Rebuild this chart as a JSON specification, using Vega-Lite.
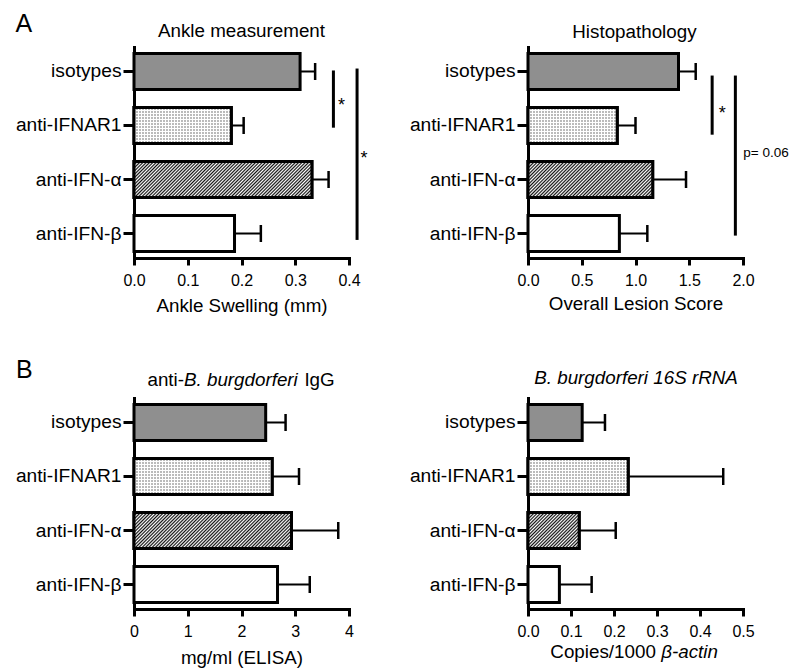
{
  "$schema": "https://vega.github.io/schema/vega-lite/v6.json",
  "padding": {"left": 15, "top": 12, "right": 5, "bottom": 5},
  "bounds": "flush",
  "columns": 2,
  "spacing": {"row": 140, "column": 179},
  "concat": [
    {
      "width": 215, "height": 211,
      "resolve": {"scale": {"y": "independent"}},
      "layer": [
        {
          "data": {"values": [
            {"group": "isotypes", "mean": 0.309, "hi": 0.337},
            {"group": "anti-IFNAR1", "mean": 0.181, "hi": 0.204},
            {"group": "anti-IFN-α", "mean": 0.331, "hi": 0.362},
            {"group": "anti-IFN-β", "mean": 0.187, "hi": 0.236}
          ]},
          "encoding": {
            "y": {"field": "group", "type": "nominal", "sort": ["isotypes", "anti-IFNAR1", "anti-IFN-α", "anti-IFN-β"], "scale": {"paddingInner": 0.333, "paddingOuter": 0.12}, "axis": {"title": null}},
            "x": {"field": "mean", "type": "quantitative", "scale": {"domain": [0, 0.4], "nice": false}, "axis": {"title": "Ankle Swelling (mm)", "values": [0, 0.1, 0.2, 0.3, 0.4], "format": ".1f", "titleY": 53}}
          },
          "layer": [
            {"mark": {"type": "bar", "stroke": "black", "strokeWidth": 3}, "encoding": {"fill": {"field": "group", "type": "nominal", "scale": {"domain": ["isotypes", "anti-IFNAR1", "anti-IFN-α", "anti-IFN-β"], "range": ["#8f8f8f", "#d9d9d9", "#8c8c8c", "#ffffff"]}, "legend": null}}},
            {"transform": [{"filter": "datum.group === 'anti-IFNAR1'"}], "mark": {"type": "bar", "strokeWidth": 0, "fill": {"gradient": "linear", "x1": 0, "y1": 0, "x2": 1.48, "y2": 0, "stops": [{"offset":0,"color":"#666"},{"offset":0.0104,"color":"#fff"},{"offset":0.0208,"color":"#666"},{"offset":0.0313,"color":"#fff"},{"offset":0.0417,"color":"#666"},{"offset":0.0521,"color":"#fff"},{"offset":0.0625,"color":"#666"},{"offset":0.0729,"color":"#fff"},{"offset":0.0833,"color":"#666"},{"offset":0.0938,"color":"#fff"},{"offset":0.1042,"color":"#666"},{"offset":0.1146,"color":"#fff"},{"offset":0.125,"color":"#666"},{"offset":0.1354,"color":"#fff"},{"offset":0.1458,"color":"#666"},{"offset":0.1563,"color":"#fff"},{"offset":0.1667,"color":"#666"},{"offset":0.1771,"color":"#fff"},{"offset":0.1875,"color":"#666"},{"offset":0.1979,"color":"#fff"},{"offset":0.2083,"color":"#666"},{"offset":0.2188,"color":"#fff"},{"offset":0.2292,"color":"#666"},{"offset":0.2396,"color":"#fff"},{"offset":0.25,"color":"#666"},{"offset":0.2604,"color":"#fff"},{"offset":0.2708,"color":"#666"},{"offset":0.2813,"color":"#fff"},{"offset":0.2917,"color":"#666"},{"offset":0.3021,"color":"#fff"},{"offset":0.3125,"color":"#666"},{"offset":0.3229,"color":"#fff"},{"offset":0.3333,"color":"#666"},{"offset":0.3438,"color":"#fff"},{"offset":0.3542,"color":"#666"},{"offset":0.3646,"color":"#fff"},{"offset":0.375,"color":"#666"},{"offset":0.3854,"color":"#fff"},{"offset":0.3958,"color":"#666"},{"offset":0.4063,"color":"#fff"},{"offset":0.4167,"color":"#666"},{"offset":0.4271,"color":"#fff"},{"offset":0.4375,"color":"#666"},{"offset":0.4479,"color":"#fff"},{"offset":0.4583,"color":"#666"},{"offset":0.4688,"color":"#fff"},{"offset":0.4792,"color":"#666"},{"offset":0.4896,"color":"#fff"},{"offset":0.5,"color":"#666"},{"offset":0.5104,"color":"#fff"},{"offset":0.5208,"color":"#666"},{"offset":0.5313,"color":"#fff"},{"offset":0.5417,"color":"#666"},{"offset":0.5521,"color":"#fff"},{"offset":0.5625,"color":"#666"},{"offset":0.5729,"color":"#fff"},{"offset":0.5833,"color":"#666"},{"offset":0.5938,"color":"#fff"},{"offset":0.6042,"color":"#666"},{"offset":0.6146,"color":"#fff"},{"offset":0.625,"color":"#666"},{"offset":0.6354,"color":"#fff"},{"offset":0.6458,"color":"#666"},{"offset":0.6563,"color":"#fff"},{"offset":0.6667,"color":"#666"},{"offset":0.6771,"color":"#fff"},{"offset":0.6875,"color":"#666"},{"offset":0.6979,"color":"#fff"},{"offset":0.7083,"color":"#666"},{"offset":0.7188,"color":"#fff"},{"offset":0.7292,"color":"#666"},{"offset":0.7396,"color":"#fff"},{"offset":0.75,"color":"#666"},{"offset":0.7604,"color":"#fff"},{"offset":0.7708,"color":"#666"},{"offset":0.7813,"color":"#fff"},{"offset":0.7917,"color":"#666"},{"offset":0.8021,"color":"#fff"},{"offset":0.8125,"color":"#666"},{"offset":0.8229,"color":"#fff"},{"offset":0.8333,"color":"#666"},{"offset":0.8438,"color":"#fff"},{"offset":0.8542,"color":"#666"},{"offset":0.8646,"color":"#fff"},{"offset":0.875,"color":"#666"},{"offset":0.8854,"color":"#fff"},{"offset":0.8958,"color":"#666"},{"offset":0.9063,"color":"#fff"},{"offset":0.9167,"color":"#666"},{"offset":0.9271,"color":"#fff"},{"offset":0.9375,"color":"#666"},{"offset":0.9479,"color":"#fff"},{"offset":0.9583,"color":"#666"},{"offset":0.9688,"color":"#fff"},{"offset":0.9792,"color":"#666"},{"offset":0.9896,"color":"#fff"},{"offset":1,"color":"#666"}]}}},
            {"transform": [{"filter": "datum.group === 'anti-IFNAR1'"}], "mark": {"type": "bar", "stroke": "black", "strokeWidth": 3, "fill": {"gradient": "linear", "x1": 0, "y1": 0, "x2": 0, "y2": 1, "stops": [{"offset":0,"color":"#fff"},{"offset":0.0417,"color":"rgba(255,255,255,0)"},{"offset":0.0833,"color":"#fff"},{"offset":0.125,"color":"rgba(255,255,255,0)"},{"offset":0.1667,"color":"#fff"},{"offset":0.2083,"color":"rgba(255,255,255,0)"},{"offset":0.25,"color":"#fff"},{"offset":0.2917,"color":"rgba(255,255,255,0)"},{"offset":0.3333,"color":"#fff"},{"offset":0.375,"color":"rgba(255,255,255,0)"},{"offset":0.4167,"color":"#fff"},{"offset":0.4583,"color":"rgba(255,255,255,0)"},{"offset":0.5,"color":"#fff"},{"offset":0.5417,"color":"rgba(255,255,255,0)"},{"offset":0.5833,"color":"#fff"},{"offset":0.625,"color":"rgba(255,255,255,0)"},{"offset":0.6667,"color":"#fff"},{"offset":0.7083,"color":"rgba(255,255,255,0)"},{"offset":0.75,"color":"#fff"},{"offset":0.7917,"color":"rgba(255,255,255,0)"},{"offset":0.8333,"color":"#fff"},{"offset":0.875,"color":"rgba(255,255,255,0)"},{"offset":0.9167,"color":"#fff"},{"offset":0.9583,"color":"rgba(255,255,255,0)"},{"offset":1,"color":"#fff"}]}}},
            {"transform": [{"filter": "datum.group === 'anti-IFN-α'"}], "mark": {"type": "bar", "stroke": "black", "strokeWidth": 3, "fill": {"gradient": "linear", "x1": 0, "y1": 0, "x2": 1.1448, "y2": 0.2317, "stops": [{"offset":0,"color":"#111"},{"offset":0.0078,"color":"#fff"},{"offset":0.0156,"color":"#111"},{"offset":0.0234,"color":"#fff"},{"offset":0.0313,"color":"#111"},{"offset":0.0391,"color":"#fff"},{"offset":0.0469,"color":"#111"},{"offset":0.0547,"color":"#fff"},{"offset":0.0625,"color":"#111"},{"offset":0.0703,"color":"#fff"},{"offset":0.0781,"color":"#111"},{"offset":0.0859,"color":"#fff"},{"offset":0.0938,"color":"#111"},{"offset":0.1016,"color":"#fff"},{"offset":0.1094,"color":"#111"},{"offset":0.1172,"color":"#fff"},{"offset":0.125,"color":"#111"},{"offset":0.1328,"color":"#fff"},{"offset":0.1406,"color":"#111"},{"offset":0.1484,"color":"#fff"},{"offset":0.1563,"color":"#111"},{"offset":0.1641,"color":"#fff"},{"offset":0.1719,"color":"#111"},{"offset":0.1797,"color":"#fff"},{"offset":0.1875,"color":"#111"},{"offset":0.1953,"color":"#fff"},{"offset":0.2031,"color":"#111"},{"offset":0.2109,"color":"#fff"},{"offset":0.2188,"color":"#111"},{"offset":0.2266,"color":"#fff"},{"offset":0.2344,"color":"#111"},{"offset":0.2422,"color":"#fff"},{"offset":0.25,"color":"#111"},{"offset":0.2578,"color":"#fff"},{"offset":0.2656,"color":"#111"},{"offset":0.2734,"color":"#fff"},{"offset":0.2813,"color":"#111"},{"offset":0.2891,"color":"#fff"},{"offset":0.2969,"color":"#111"},{"offset":0.3047,"color":"#fff"},{"offset":0.3125,"color":"#111"},{"offset":0.3203,"color":"#fff"},{"offset":0.3281,"color":"#111"},{"offset":0.3359,"color":"#fff"},{"offset":0.3438,"color":"#111"},{"offset":0.3516,"color":"#fff"},{"offset":0.3594,"color":"#111"},{"offset":0.3672,"color":"#fff"},{"offset":0.375,"color":"#111"},{"offset":0.3828,"color":"#fff"},{"offset":0.3906,"color":"#111"},{"offset":0.3984,"color":"#fff"},{"offset":0.4063,"color":"#111"},{"offset":0.4141,"color":"#fff"},{"offset":0.4219,"color":"#111"},{"offset":0.4297,"color":"#fff"},{"offset":0.4375,"color":"#111"},{"offset":0.4453,"color":"#fff"},{"offset":0.4531,"color":"#111"},{"offset":0.4609,"color":"#fff"},{"offset":0.4688,"color":"#111"},{"offset":0.4766,"color":"#fff"},{"offset":0.4844,"color":"#111"},{"offset":0.4922,"color":"#fff"},{"offset":0.5,"color":"#111"},{"offset":0.5078,"color":"#fff"},{"offset":0.5156,"color":"#111"},{"offset":0.5234,"color":"#fff"},{"offset":0.5313,"color":"#111"},{"offset":0.5391,"color":"#fff"},{"offset":0.5469,"color":"#111"},{"offset":0.5547,"color":"#fff"},{"offset":0.5625,"color":"#111"},{"offset":0.5703,"color":"#fff"},{"offset":0.5781,"color":"#111"},{"offset":0.5859,"color":"#fff"},{"offset":0.5938,"color":"#111"},{"offset":0.6016,"color":"#fff"},{"offset":0.6094,"color":"#111"},{"offset":0.6172,"color":"#fff"},{"offset":0.625,"color":"#111"},{"offset":0.6328,"color":"#fff"},{"offset":0.6406,"color":"#111"},{"offset":0.6484,"color":"#fff"},{"offset":0.6563,"color":"#111"},{"offset":0.6641,"color":"#fff"},{"offset":0.6719,"color":"#111"},{"offset":0.6797,"color":"#fff"},{"offset":0.6875,"color":"#111"},{"offset":0.6953,"color":"#fff"},{"offset":0.7031,"color":"#111"},{"offset":0.7109,"color":"#fff"},{"offset":0.7188,"color":"#111"},{"offset":0.7266,"color":"#fff"},{"offset":0.7344,"color":"#111"},{"offset":0.7422,"color":"#fff"},{"offset":0.75,"color":"#111"},{"offset":0.7578,"color":"#fff"},{"offset":0.7656,"color":"#111"},{"offset":0.7734,"color":"#fff"},{"offset":0.7813,"color":"#111"},{"offset":0.7891,"color":"#fff"},{"offset":0.7969,"color":"#111"},{"offset":0.8047,"color":"#fff"},{"offset":0.8125,"color":"#111"},{"offset":0.8203,"color":"#fff"},{"offset":0.8281,"color":"#111"},{"offset":0.8359,"color":"#fff"},{"offset":0.8438,"color":"#111"},{"offset":0.8516,"color":"#fff"},{"offset":0.8594,"color":"#111"},{"offset":0.8672,"color":"#fff"},{"offset":0.875,"color":"#111"},{"offset":0.8828,"color":"#fff"},{"offset":0.8906,"color":"#111"},{"offset":0.8984,"color":"#fff"},{"offset":0.9063,"color":"#111"},{"offset":0.9141,"color":"#fff"},{"offset":0.9219,"color":"#111"},{"offset":0.9297,"color":"#fff"},{"offset":0.9375,"color":"#111"},{"offset":0.9453,"color":"#fff"},{"offset":0.9531,"color":"#111"},{"offset":0.9609,"color":"#fff"},{"offset":0.9688,"color":"#111"},{"offset":0.9766,"color":"#fff"},{"offset":0.9844,"color":"#111"},{"offset":0.9922,"color":"#fff"},{"offset":1,"color":"#111"}]}}},
            {"mark": {"type": "rule", "strokeWidth": 2, "color": "black"}, "encoding": {"x2": {"field": "hi"}}},
            {"mark": {"type": "tick", "orient": "vertical", "size": 17, "thickness": 2.5, "color": "black", "opacity": 1}, "encoding": {"x": {"field": "hi", "type": "quantitative"}}}
          ]
        },
        {
          "layer": [
            {
              "data": {"values": [{"x": 0.371, "y1": -0.02, "y2": 1.04}, {"x": 0.415, "y1": -0.056, "y2": 3.12}]},
              "mark": {"type": "rule", "strokeWidth": 3, "color": "black"},
              "encoding": {
                "x": {"field": "x", "type": "quantitative", "scale": {"domain": [0, 0.4], "nice": false}},
                "y": {"field": "y1", "type": "quantitative", "scale": {"domain": [-0.455, 3.455], "reverse": true, "nice": false, "zero": false}, "axis": null},
                "y2": {"field": "y2"}
              }
            },
            {
              "data": {"values": [{"x": 0.386, "y": 0.728, "t": "*"}, {"x": 0.428, "y": 1.709, "t": "*"}]},
              "mark": {"type": "text", "fontSize": 18, "align": "center", "baseline": "alphabetic", "color": "black"},
              "encoding": {
                "x": {"field": "x", "type": "quantitative", "scale": {"domain": [0, 0.4], "nice": false}},
                "y": {"field": "y", "type": "quantitative", "scale": {"domain": [-0.455, 3.455], "reverse": true, "nice": false, "zero": false}, "axis": null},
                "text": {"field": "t"}
              }
            },
            {
              "data": {"values": [{"x": -0.2206, "y": -0.728, "t": "A"}]},
              "mark": {"type": "text", "fontSize": 25, "align": "left", "baseline": "alphabetic", "color": "black"},
              "encoding": {
                "x": {"field": "x", "type": "quantitative", "scale": {"domain": [0, 0.4], "nice": false}},
                "y": {"field": "y", "type": "quantitative", "scale": {"domain": [-0.455, 3.455], "reverse": true, "nice": false, "zero": false}, "axis": null},
                "text": {"field": "t"}
              }
            },
            {
              "data": {"values": [{"x": 0.2, "y": -0.635, "t": "Ankle measurement"}]},
              "mark": {"type": "text", "fontSize": 18.8, "align": "center", "baseline": "alphabetic", "color": "black"},
              "encoding": {
                "x": {"field": "x", "type": "quantitative", "scale": {"domain": [0, 0.4], "nice": false}},
                "y": {"field": "y", "type": "quantitative", "scale": {"domain": [-0.455, 3.455], "reverse": true, "nice": false, "zero": false}, "axis": null},
                "text": {"field": "t"}
              }
            }
          ]
        }
      ]
    },
    {
      "width": 215, "height": 211,
      "resolve": {"scale": {"y": "independent"}},
      "layer": [
        {
          "data": {"values": [
            {"group": "isotypes", "mean": 1.40, "hi": 1.56},
            {"group": "anti-IFNAR1", "mean": 0.83, "hi": 1.0},
            {"group": "anti-IFN-α", "mean": 1.16, "hi": 1.47},
            {"group": "anti-IFN-β", "mean": 0.85, "hi": 1.11}
          ]},
          "encoding": {
            "y": {"field": "group", "type": "nominal", "sort": ["isotypes", "anti-IFNAR1", "anti-IFN-α", "anti-IFN-β"], "scale": {"paddingInner": 0.333, "paddingOuter": 0.12}, "axis": {"title": null}},
            "x": {"field": "mean", "type": "quantitative", "scale": {"domain": [0, 2], "nice": false}, "axis": {"title": "Overall Lesion Score", "values": [0, 0.5, 1, 1.5, 2], "format": ".1f", "titleY": 51.5}}
          },
          "layer": [
            {"mark": {"type": "bar", "stroke": "black", "strokeWidth": 3}, "encoding": {"fill": {"field": "group", "type": "nominal", "scale": {"domain": ["isotypes", "anti-IFNAR1", "anti-IFN-α", "anti-IFN-β"], "range": ["#8f8f8f", "#d9d9d9", "#8c8c8c", "#ffffff"]}, "legend": null}}},
            {"transform": [{"filter": "datum.group === 'anti-IFNAR1'"}], "mark": {"type": "bar", "strokeWidth": 0, "fill": {"gradient": "linear", "x1": 0, "y1": 0, "x2": 1.614, "y2": 0, "stops": [{"offset":0,"color":"#666"},{"offset":0.0104,"color":"#fff"},{"offset":0.0208,"color":"#666"},{"offset":0.0313,"color":"#fff"},{"offset":0.0417,"color":"#666"},{"offset":0.0521,"color":"#fff"},{"offset":0.0625,"color":"#666"},{"offset":0.0729,"color":"#fff"},{"offset":0.0833,"color":"#666"},{"offset":0.0938,"color":"#fff"},{"offset":0.1042,"color":"#666"},{"offset":0.1146,"color":"#fff"},{"offset":0.125,"color":"#666"},{"offset":0.1354,"color":"#fff"},{"offset":0.1458,"color":"#666"},{"offset":0.1563,"color":"#fff"},{"offset":0.1667,"color":"#666"},{"offset":0.1771,"color":"#fff"},{"offset":0.1875,"color":"#666"},{"offset":0.1979,"color":"#fff"},{"offset":0.2083,"color":"#666"},{"offset":0.2188,"color":"#fff"},{"offset":0.2292,"color":"#666"},{"offset":0.2396,"color":"#fff"},{"offset":0.25,"color":"#666"},{"offset":0.2604,"color":"#fff"},{"offset":0.2708,"color":"#666"},{"offset":0.2813,"color":"#fff"},{"offset":0.2917,"color":"#666"},{"offset":0.3021,"color":"#fff"},{"offset":0.3125,"color":"#666"},{"offset":0.3229,"color":"#fff"},{"offset":0.3333,"color":"#666"},{"offset":0.3438,"color":"#fff"},{"offset":0.3542,"color":"#666"},{"offset":0.3646,"color":"#fff"},{"offset":0.375,"color":"#666"},{"offset":0.3854,"color":"#fff"},{"offset":0.3958,"color":"#666"},{"offset":0.4063,"color":"#fff"},{"offset":0.4167,"color":"#666"},{"offset":0.4271,"color":"#fff"},{"offset":0.4375,"color":"#666"},{"offset":0.4479,"color":"#fff"},{"offset":0.4583,"color":"#666"},{"offset":0.4688,"color":"#fff"},{"offset":0.4792,"color":"#666"},{"offset":0.4896,"color":"#fff"},{"offset":0.5,"color":"#666"},{"offset":0.5104,"color":"#fff"},{"offset":0.5208,"color":"#666"},{"offset":0.5313,"color":"#fff"},{"offset":0.5417,"color":"#666"},{"offset":0.5521,"color":"#fff"},{"offset":0.5625,"color":"#666"},{"offset":0.5729,"color":"#fff"},{"offset":0.5833,"color":"#666"},{"offset":0.5938,"color":"#fff"},{"offset":0.6042,"color":"#666"},{"offset":0.6146,"color":"#fff"},{"offset":0.625,"color":"#666"},{"offset":0.6354,"color":"#fff"},{"offset":0.6458,"color":"#666"},{"offset":0.6563,"color":"#fff"},{"offset":0.6667,"color":"#666"},{"offset":0.6771,"color":"#fff"},{"offset":0.6875,"color":"#666"},{"offset":0.6979,"color":"#fff"},{"offset":0.7083,"color":"#666"},{"offset":0.7188,"color":"#fff"},{"offset":0.7292,"color":"#666"},{"offset":0.7396,"color":"#fff"},{"offset":0.75,"color":"#666"},{"offset":0.7604,"color":"#fff"},{"offset":0.7708,"color":"#666"},{"offset":0.7813,"color":"#fff"},{"offset":0.7917,"color":"#666"},{"offset":0.8021,"color":"#fff"},{"offset":0.8125,"color":"#666"},{"offset":0.8229,"color":"#fff"},{"offset":0.8333,"color":"#666"},{"offset":0.8438,"color":"#fff"},{"offset":0.8542,"color":"#666"},{"offset":0.8646,"color":"#fff"},{"offset":0.875,"color":"#666"},{"offset":0.8854,"color":"#fff"},{"offset":0.8958,"color":"#666"},{"offset":0.9063,"color":"#fff"},{"offset":0.9167,"color":"#666"},{"offset":0.9271,"color":"#fff"},{"offset":0.9375,"color":"#666"},{"offset":0.9479,"color":"#fff"},{"offset":0.9583,"color":"#666"},{"offset":0.9688,"color":"#fff"},{"offset":0.9792,"color":"#666"},{"offset":0.9896,"color":"#fff"},{"offset":1,"color":"#666"}]}}},
            {"transform": [{"filter": "datum.group === 'anti-IFNAR1'"}], "mark": {"type": "bar", "stroke": "black", "strokeWidth": 3, "fill": {"gradient": "linear", "x1": 0, "y1": 0, "x2": 0, "y2": 1, "stops": [{"offset":0,"color":"#fff"},{"offset":0.0417,"color":"rgba(255,255,255,0)"},{"offset":0.0833,"color":"#fff"},{"offset":0.125,"color":"rgba(255,255,255,0)"},{"offset":0.1667,"color":"#fff"},{"offset":0.2083,"color":"rgba(255,255,255,0)"},{"offset":0.25,"color":"#fff"},{"offset":0.2917,"color":"rgba(255,255,255,0)"},{"offset":0.3333,"color":"#fff"},{"offset":0.375,"color":"rgba(255,255,255,0)"},{"offset":0.4167,"color":"#fff"},{"offset":0.4583,"color":"rgba(255,255,255,0)"},{"offset":0.5,"color":"#fff"},{"offset":0.5417,"color":"rgba(255,255,255,0)"},{"offset":0.5833,"color":"#fff"},{"offset":0.625,"color":"rgba(255,255,255,0)"},{"offset":0.6667,"color":"#fff"},{"offset":0.7083,"color":"rgba(255,255,255,0)"},{"offset":0.75,"color":"#fff"},{"offset":0.7917,"color":"rgba(255,255,255,0)"},{"offset":0.8333,"color":"#fff"},{"offset":0.875,"color":"rgba(255,255,255,0)"},{"offset":0.9167,"color":"#fff"},{"offset":0.9583,"color":"rgba(255,255,255,0)"},{"offset":1,"color":"#fff"}]}}},
            {"transform": [{"filter": "datum.group === 'anti-IFN-α'"}], "mark": {"type": "bar", "stroke": "black", "strokeWidth": 3, "fill": {"gradient": "linear", "x1": 0, "y1": 0, "x2": 1.5693, "y2": 0.453, "stops": [{"offset":0,"color":"#111"},{"offset":0.0078,"color":"#fff"},{"offset":0.0156,"color":"#111"},{"offset":0.0234,"color":"#fff"},{"offset":0.0313,"color":"#111"},{"offset":0.0391,"color":"#fff"},{"offset":0.0469,"color":"#111"},{"offset":0.0547,"color":"#fff"},{"offset":0.0625,"color":"#111"},{"offset":0.0703,"color":"#fff"},{"offset":0.0781,"color":"#111"},{"offset":0.0859,"color":"#fff"},{"offset":0.0938,"color":"#111"},{"offset":0.1016,"color":"#fff"},{"offset":0.1094,"color":"#111"},{"offset":0.1172,"color":"#fff"},{"offset":0.125,"color":"#111"},{"offset":0.1328,"color":"#fff"},{"offset":0.1406,"color":"#111"},{"offset":0.1484,"color":"#fff"},{"offset":0.1563,"color":"#111"},{"offset":0.1641,"color":"#fff"},{"offset":0.1719,"color":"#111"},{"offset":0.1797,"color":"#fff"},{"offset":0.1875,"color":"#111"},{"offset":0.1953,"color":"#fff"},{"offset":0.2031,"color":"#111"},{"offset":0.2109,"color":"#fff"},{"offset":0.2188,"color":"#111"},{"offset":0.2266,"color":"#fff"},{"offset":0.2344,"color":"#111"},{"offset":0.2422,"color":"#fff"},{"offset":0.25,"color":"#111"},{"offset":0.2578,"color":"#fff"},{"offset":0.2656,"color":"#111"},{"offset":0.2734,"color":"#fff"},{"offset":0.2813,"color":"#111"},{"offset":0.2891,"color":"#fff"},{"offset":0.2969,"color":"#111"},{"offset":0.3047,"color":"#fff"},{"offset":0.3125,"color":"#111"},{"offset":0.3203,"color":"#fff"},{"offset":0.3281,"color":"#111"},{"offset":0.3359,"color":"#fff"},{"offset":0.3438,"color":"#111"},{"offset":0.3516,"color":"#fff"},{"offset":0.3594,"color":"#111"},{"offset":0.3672,"color":"#fff"},{"offset":0.375,"color":"#111"},{"offset":0.3828,"color":"#fff"},{"offset":0.3906,"color":"#111"},{"offset":0.3984,"color":"#fff"},{"offset":0.4063,"color":"#111"},{"offset":0.4141,"color":"#fff"},{"offset":0.4219,"color":"#111"},{"offset":0.4297,"color":"#fff"},{"offset":0.4375,"color":"#111"},{"offset":0.4453,"color":"#fff"},{"offset":0.4531,"color":"#111"},{"offset":0.4609,"color":"#fff"},{"offset":0.4688,"color":"#111"},{"offset":0.4766,"color":"#fff"},{"offset":0.4844,"color":"#111"},{"offset":0.4922,"color":"#fff"},{"offset":0.5,"color":"#111"},{"offset":0.5078,"color":"#fff"},{"offset":0.5156,"color":"#111"},{"offset":0.5234,"color":"#fff"},{"offset":0.5313,"color":"#111"},{"offset":0.5391,"color":"#fff"},{"offset":0.5469,"color":"#111"},{"offset":0.5547,"color":"#fff"},{"offset":0.5625,"color":"#111"},{"offset":0.5703,"color":"#fff"},{"offset":0.5781,"color":"#111"},{"offset":0.5859,"color":"#fff"},{"offset":0.5938,"color":"#111"},{"offset":0.6016,"color":"#fff"},{"offset":0.6094,"color":"#111"},{"offset":0.6172,"color":"#fff"},{"offset":0.625,"color":"#111"},{"offset":0.6328,"color":"#fff"},{"offset":0.6406,"color":"#111"},{"offset":0.6484,"color":"#fff"},{"offset":0.6563,"color":"#111"},{"offset":0.6641,"color":"#fff"},{"offset":0.6719,"color":"#111"},{"offset":0.6797,"color":"#fff"},{"offset":0.6875,"color":"#111"},{"offset":0.6953,"color":"#fff"},{"offset":0.7031,"color":"#111"},{"offset":0.7109,"color":"#fff"},{"offset":0.7188,"color":"#111"},{"offset":0.7266,"color":"#fff"},{"offset":0.7344,"color":"#111"},{"offset":0.7422,"color":"#fff"},{"offset":0.75,"color":"#111"},{"offset":0.7578,"color":"#fff"},{"offset":0.7656,"color":"#111"},{"offset":0.7734,"color":"#fff"},{"offset":0.7813,"color":"#111"},{"offset":0.7891,"color":"#fff"},{"offset":0.7969,"color":"#111"},{"offset":0.8047,"color":"#fff"},{"offset":0.8125,"color":"#111"},{"offset":0.8203,"color":"#fff"},{"offset":0.8281,"color":"#111"},{"offset":0.8359,"color":"#fff"},{"offset":0.8438,"color":"#111"},{"offset":0.8516,"color":"#fff"},{"offset":0.8594,"color":"#111"},{"offset":0.8672,"color":"#fff"},{"offset":0.875,"color":"#111"},{"offset":0.8828,"color":"#fff"},{"offset":0.8906,"color":"#111"},{"offset":0.8984,"color":"#fff"},{"offset":0.9063,"color":"#111"},{"offset":0.9141,"color":"#fff"},{"offset":0.9219,"color":"#111"},{"offset":0.9297,"color":"#fff"},{"offset":0.9375,"color":"#111"},{"offset":0.9453,"color":"#fff"},{"offset":0.9531,"color":"#111"},{"offset":0.9609,"color":"#fff"},{"offset":0.9688,"color":"#111"},{"offset":0.9766,"color":"#fff"},{"offset":0.9844,"color":"#111"},{"offset":0.9922,"color":"#fff"},{"offset":1,"color":"#111"}]}}},
            {"mark": {"type": "rule", "strokeWidth": 2, "color": "black"}, "encoding": {"x2": {"field": "hi"}}},
            {"mark": {"type": "tick", "orient": "vertical", "size": 17, "thickness": 2.5, "color": "black", "opacity": 1}, "encoding": {"x": {"field": "hi", "type": "quantitative"}}}
          ]
        },
        {
          "layer": [
            {
              "data": {"values": [{"x": 1.713, "y1": 0.074, "y2": 1.17}, {"x": 1.929, "y1": 0.074, "y2": 3.04}]},
              "mark": {"type": "rule", "strokeWidth": 3, "color": "black"},
              "encoding": {
                "x": {"field": "x", "type": "quantitative", "scale": {"domain": [0, 2], "nice": false}},
                "y": {"field": "y1", "type": "quantitative", "scale": {"domain": [-0.455, 3.455], "reverse": true, "nice": false, "zero": false}, "axis": null},
                "y2": {"field": "y2"}
              }
            },
            {
              "data": {"values": [{"x": 1.806, "y": 0.876, "t": "*"}]},
              "mark": {"type": "text", "fontSize": 18, "align": "center", "baseline": "alphabetic", "color": "black"},
              "encoding": {
                "x": {"field": "x", "type": "quantitative", "scale": {"domain": [0, 2], "nice": false}},
                "y": {"field": "y", "type": "quantitative", "scale": {"domain": [-0.455, 3.455], "reverse": true, "nice": false, "zero": false}, "axis": null},
                "text": {"field": "t"}
              }
            },
            {
              "data": {"values": [{"x": 2.003, "y": 1.51, "t": "p= 0.06"}]},
              "mark": {"type": "text", "fontSize": 13.5, "align": "left", "baseline": "middle", "color": "black"},
              "encoding": {
                "x": {"field": "x", "type": "quantitative", "scale": {"domain": [0, 2], "nice": false}},
                "y": {"field": "y", "type": "quantitative", "scale": {"domain": [-0.455, 3.455], "reverse": true, "nice": false, "zero": false}, "axis": null},
                "text": {"field": "t"}
              }
            },
            {
              "data": {"values": [{"x": 0.99, "y": -0.63, "t": "Histopathology"}]},
              "mark": {"type": "text", "fontSize": 18.8, "align": "center", "baseline": "alphabetic", "color": "black"},
              "encoding": {
                "x": {"field": "x", "type": "quantitative", "scale": {"domain": [0, 2], "nice": false}},
                "y": {"field": "y", "type": "quantitative", "scale": {"domain": [-0.455, 3.455], "reverse": true, "nice": false, "zero": false}, "axis": null},
                "text": {"field": "t"}
              }
            }
          ]
        }
      ]
    },
    {
      "width": 215, "height": 211,
      "resolve": {"scale": {"y": "independent"}},
      "layer": [
        {
          "data": {"values": [
            {"group": "isotypes", "mean": 2.45, "hi": 2.82},
            {"group": "anti-IFNAR1", "mean": 2.57, "hi": 3.07},
            {"group": "anti-IFN-α", "mean": 2.93, "hi": 3.8},
            {"group": "anti-IFN-β", "mean": 2.67, "hi": 3.27}
          ]},
          "encoding": {
            "y": {"field": "group", "type": "nominal", "sort": ["isotypes", "anti-IFNAR1", "anti-IFN-α", "anti-IFN-β"], "scale": {"paddingInner": 0.333, "paddingOuter": 0.12}, "axis": {"title": null}},
            "x": {"field": "mean", "type": "quantitative", "scale": {"domain": [0, 4], "nice": false}, "axis": {"title": "mg/ml (ELISA)", "values": [0, 1, 2, 3, 4], "format": "d", "titleY": 54}}
          },
          "layer": [
            {"mark": {"type": "bar", "stroke": "black", "strokeWidth": 3}, "encoding": {"fill": {"field": "group", "type": "nominal", "scale": {"domain": ["isotypes", "anti-IFNAR1", "anti-IFN-α", "anti-IFN-β"], "range": ["#8f8f8f", "#d9d9d9", "#8c8c8c", "#ffffff"]}, "legend": null}}},
            {"transform": [{"filter": "datum.group === 'anti-IFNAR1'"}], "mark": {"type": "bar", "strokeWidth": 0, "fill": {"gradient": "linear", "x1": 0, "y1": 0, "x2": 1.043, "y2": 0, "stops": [{"offset":0,"color":"#666"},{"offset":0.0104,"color":"#fff"},{"offset":0.0208,"color":"#666"},{"offset":0.0313,"color":"#fff"},{"offset":0.0417,"color":"#666"},{"offset":0.0521,"color":"#fff"},{"offset":0.0625,"color":"#666"},{"offset":0.0729,"color":"#fff"},{"offset":0.0833,"color":"#666"},{"offset":0.0938,"color":"#fff"},{"offset":0.1042,"color":"#666"},{"offset":0.1146,"color":"#fff"},{"offset":0.125,"color":"#666"},{"offset":0.1354,"color":"#fff"},{"offset":0.1458,"color":"#666"},{"offset":0.1563,"color":"#fff"},{"offset":0.1667,"color":"#666"},{"offset":0.1771,"color":"#fff"},{"offset":0.1875,"color":"#666"},{"offset":0.1979,"color":"#fff"},{"offset":0.2083,"color":"#666"},{"offset":0.2188,"color":"#fff"},{"offset":0.2292,"color":"#666"},{"offset":0.2396,"color":"#fff"},{"offset":0.25,"color":"#666"},{"offset":0.2604,"color":"#fff"},{"offset":0.2708,"color":"#666"},{"offset":0.2813,"color":"#fff"},{"offset":0.2917,"color":"#666"},{"offset":0.3021,"color":"#fff"},{"offset":0.3125,"color":"#666"},{"offset":0.3229,"color":"#fff"},{"offset":0.3333,"color":"#666"},{"offset":0.3438,"color":"#fff"},{"offset":0.3542,"color":"#666"},{"offset":0.3646,"color":"#fff"},{"offset":0.375,"color":"#666"},{"offset":0.3854,"color":"#fff"},{"offset":0.3958,"color":"#666"},{"offset":0.4063,"color":"#fff"},{"offset":0.4167,"color":"#666"},{"offset":0.4271,"color":"#fff"},{"offset":0.4375,"color":"#666"},{"offset":0.4479,"color":"#fff"},{"offset":0.4583,"color":"#666"},{"offset":0.4688,"color":"#fff"},{"offset":0.4792,"color":"#666"},{"offset":0.4896,"color":"#fff"},{"offset":0.5,"color":"#666"},{"offset":0.5104,"color":"#fff"},{"offset":0.5208,"color":"#666"},{"offset":0.5313,"color":"#fff"},{"offset":0.5417,"color":"#666"},{"offset":0.5521,"color":"#fff"},{"offset":0.5625,"color":"#666"},{"offset":0.5729,"color":"#fff"},{"offset":0.5833,"color":"#666"},{"offset":0.5938,"color":"#fff"},{"offset":0.6042,"color":"#666"},{"offset":0.6146,"color":"#fff"},{"offset":0.625,"color":"#666"},{"offset":0.6354,"color":"#fff"},{"offset":0.6458,"color":"#666"},{"offset":0.6563,"color":"#fff"},{"offset":0.6667,"color":"#666"},{"offset":0.6771,"color":"#fff"},{"offset":0.6875,"color":"#666"},{"offset":0.6979,"color":"#fff"},{"offset":0.7083,"color":"#666"},{"offset":0.7188,"color":"#fff"},{"offset":0.7292,"color":"#666"},{"offset":0.7396,"color":"#fff"},{"offset":0.75,"color":"#666"},{"offset":0.7604,"color":"#fff"},{"offset":0.7708,"color":"#666"},{"offset":0.7813,"color":"#fff"},{"offset":0.7917,"color":"#666"},{"offset":0.8021,"color":"#fff"},{"offset":0.8125,"color":"#666"},{"offset":0.8229,"color":"#fff"},{"offset":0.8333,"color":"#666"},{"offset":0.8438,"color":"#fff"},{"offset":0.8542,"color":"#666"},{"offset":0.8646,"color":"#fff"},{"offset":0.875,"color":"#666"},{"offset":0.8854,"color":"#fff"},{"offset":0.8958,"color":"#666"},{"offset":0.9063,"color":"#fff"},{"offset":0.9167,"color":"#666"},{"offset":0.9271,"color":"#fff"},{"offset":0.9375,"color":"#666"},{"offset":0.9479,"color":"#fff"},{"offset":0.9583,"color":"#666"},{"offset":0.9688,"color":"#fff"},{"offset":0.9792,"color":"#666"},{"offset":0.9896,"color":"#fff"},{"offset":1,"color":"#666"}]}}},
            {"transform": [{"filter": "datum.group === 'anti-IFNAR1'"}], "mark": {"type": "bar", "stroke": "black", "strokeWidth": 3, "fill": {"gradient": "linear", "x1": 0, "y1": 0, "x2": 0, "y2": 1, "stops": [{"offset":0,"color":"#fff"},{"offset":0.0417,"color":"rgba(255,255,255,0)"},{"offset":0.0833,"color":"#fff"},{"offset":0.125,"color":"rgba(255,255,255,0)"},{"offset":0.1667,"color":"#fff"},{"offset":0.2083,"color":"rgba(255,255,255,0)"},{"offset":0.25,"color":"#fff"},{"offset":0.2917,"color":"rgba(255,255,255,0)"},{"offset":0.3333,"color":"#fff"},{"offset":0.375,"color":"rgba(255,255,255,0)"},{"offset":0.4167,"color":"#fff"},{"offset":0.4583,"color":"rgba(255,255,255,0)"},{"offset":0.5,"color":"#fff"},{"offset":0.5417,"color":"rgba(255,255,255,0)"},{"offset":0.5833,"color":"#fff"},{"offset":0.625,"color":"rgba(255,255,255,0)"},{"offset":0.6667,"color":"#fff"},{"offset":0.7083,"color":"rgba(255,255,255,0)"},{"offset":0.75,"color":"#fff"},{"offset":0.7917,"color":"rgba(255,255,255,0)"},{"offset":0.8333,"color":"#fff"},{"offset":0.875,"color":"rgba(255,255,255,0)"},{"offset":0.9167,"color":"#fff"},{"offset":0.9583,"color":"rgba(255,255,255,0)"},{"offset":1,"color":"#fff"}]}}},
            {"transform": [{"filter": "datum.group === 'anti-IFN-α'"}], "mark": {"type": "bar", "stroke": "black", "strokeWidth": 3, "fill": {"gradient": "linear", "x1": 0, "y1": 0, "x2": 1.2792, "y2": 0.2924, "stops": [{"offset":0,"color":"#111"},{"offset":0.0078,"color":"#fff"},{"offset":0.0156,"color":"#111"},{"offset":0.0234,"color":"#fff"},{"offset":0.0313,"color":"#111"},{"offset":0.0391,"color":"#fff"},{"offset":0.0469,"color":"#111"},{"offset":0.0547,"color":"#fff"},{"offset":0.0625,"color":"#111"},{"offset":0.0703,"color":"#fff"},{"offset":0.0781,"color":"#111"},{"offset":0.0859,"color":"#fff"},{"offset":0.0938,"color":"#111"},{"offset":0.1016,"color":"#fff"},{"offset":0.1094,"color":"#111"},{"offset":0.1172,"color":"#fff"},{"offset":0.125,"color":"#111"},{"offset":0.1328,"color":"#fff"},{"offset":0.1406,"color":"#111"},{"offset":0.1484,"color":"#fff"},{"offset":0.1563,"color":"#111"},{"offset":0.1641,"color":"#fff"},{"offset":0.1719,"color":"#111"},{"offset":0.1797,"color":"#fff"},{"offset":0.1875,"color":"#111"},{"offset":0.1953,"color":"#fff"},{"offset":0.2031,"color":"#111"},{"offset":0.2109,"color":"#fff"},{"offset":0.2188,"color":"#111"},{"offset":0.2266,"color":"#fff"},{"offset":0.2344,"color":"#111"},{"offset":0.2422,"color":"#fff"},{"offset":0.25,"color":"#111"},{"offset":0.2578,"color":"#fff"},{"offset":0.2656,"color":"#111"},{"offset":0.2734,"color":"#fff"},{"offset":0.2813,"color":"#111"},{"offset":0.2891,"color":"#fff"},{"offset":0.2969,"color":"#111"},{"offset":0.3047,"color":"#fff"},{"offset":0.3125,"color":"#111"},{"offset":0.3203,"color":"#fff"},{"offset":0.3281,"color":"#111"},{"offset":0.3359,"color":"#fff"},{"offset":0.3438,"color":"#111"},{"offset":0.3516,"color":"#fff"},{"offset":0.3594,"color":"#111"},{"offset":0.3672,"color":"#fff"},{"offset":0.375,"color":"#111"},{"offset":0.3828,"color":"#fff"},{"offset":0.3906,"color":"#111"},{"offset":0.3984,"color":"#fff"},{"offset":0.4063,"color":"#111"},{"offset":0.4141,"color":"#fff"},{"offset":0.4219,"color":"#111"},{"offset":0.4297,"color":"#fff"},{"offset":0.4375,"color":"#111"},{"offset":0.4453,"color":"#fff"},{"offset":0.4531,"color":"#111"},{"offset":0.4609,"color":"#fff"},{"offset":0.4688,"color":"#111"},{"offset":0.4766,"color":"#fff"},{"offset":0.4844,"color":"#111"},{"offset":0.4922,"color":"#fff"},{"offset":0.5,"color":"#111"},{"offset":0.5078,"color":"#fff"},{"offset":0.5156,"color":"#111"},{"offset":0.5234,"color":"#fff"},{"offset":0.5313,"color":"#111"},{"offset":0.5391,"color":"#fff"},{"offset":0.5469,"color":"#111"},{"offset":0.5547,"color":"#fff"},{"offset":0.5625,"color":"#111"},{"offset":0.5703,"color":"#fff"},{"offset":0.5781,"color":"#111"},{"offset":0.5859,"color":"#fff"},{"offset":0.5938,"color":"#111"},{"offset":0.6016,"color":"#fff"},{"offset":0.6094,"color":"#111"},{"offset":0.6172,"color":"#fff"},{"offset":0.625,"color":"#111"},{"offset":0.6328,"color":"#fff"},{"offset":0.6406,"color":"#111"},{"offset":0.6484,"color":"#fff"},{"offset":0.6563,"color":"#111"},{"offset":0.6641,"color":"#fff"},{"offset":0.6719,"color":"#111"},{"offset":0.6797,"color":"#fff"},{"offset":0.6875,"color":"#111"},{"offset":0.6953,"color":"#fff"},{"offset":0.7031,"color":"#111"},{"offset":0.7109,"color":"#fff"},{"offset":0.7188,"color":"#111"},{"offset":0.7266,"color":"#fff"},{"offset":0.7344,"color":"#111"},{"offset":0.7422,"color":"#fff"},{"offset":0.75,"color":"#111"},{"offset":0.7578,"color":"#fff"},{"offset":0.7656,"color":"#111"},{"offset":0.7734,"color":"#fff"},{"offset":0.7813,"color":"#111"},{"offset":0.7891,"color":"#fff"},{"offset":0.7969,"color":"#111"},{"offset":0.8047,"color":"#fff"},{"offset":0.8125,"color":"#111"},{"offset":0.8203,"color":"#fff"},{"offset":0.8281,"color":"#111"},{"offset":0.8359,"color":"#fff"},{"offset":0.8438,"color":"#111"},{"offset":0.8516,"color":"#fff"},{"offset":0.8594,"color":"#111"},{"offset":0.8672,"color":"#fff"},{"offset":0.875,"color":"#111"},{"offset":0.8828,"color":"#fff"},{"offset":0.8906,"color":"#111"},{"offset":0.8984,"color":"#fff"},{"offset":0.9063,"color":"#111"},{"offset":0.9141,"color":"#fff"},{"offset":0.9219,"color":"#111"},{"offset":0.9297,"color":"#fff"},{"offset":0.9375,"color":"#111"},{"offset":0.9453,"color":"#fff"},{"offset":0.9531,"color":"#111"},{"offset":0.9609,"color":"#fff"},{"offset":0.9688,"color":"#111"},{"offset":0.9766,"color":"#fff"},{"offset":0.9844,"color":"#111"},{"offset":0.9922,"color":"#fff"},{"offset":1,"color":"#111"}]}}},
            {"mark": {"type": "rule", "strokeWidth": 2, "color": "black"}, "encoding": {"x2": {"field": "hi"}}},
            {"mark": {"type": "tick", "orient": "vertical", "size": 17, "thickness": 2.5, "color": "black", "opacity": 1}, "encoding": {"x": {"field": "hi", "type": "quantitative"}}}
          ]
        },
        {
          "layer": [
            {
              "data": {"values": [{"x": -2.195, "y": -0.83, "t": "B"}]},
              "mark": {"type": "text", "fontSize": 25, "align": "left", "baseline": "alphabetic", "color": "black"},
              "encoding": {
                "x": {"field": "x", "type": "quantitative", "scale": {"domain": [0, 4], "nice": false}},
                "y": {"field": "y", "type": "quantitative", "scale": {"domain": [-0.455, 3.455], "reverse": true, "nice": false, "zero": false}, "axis": null},
                "text": {"field": "t"}
              }
            },
            {
              "data": {"values": [{"x": 0.93, "y": -0.67, "t": "anti-"}]},
              "mark": {"type": "text", "fontSize": 18.8, "align": "right", "baseline": "alphabetic", "color": "black"},
              "encoding": {
                "x": {"field": "x", "type": "quantitative", "scale": {"domain": [0, 4], "nice": false}},
                "y": {"field": "y", "type": "quantitative", "scale": {"domain": [-0.455, 3.455], "reverse": true, "nice": false, "zero": false}, "axis": null},
                "text": {"field": "t"}
              }
            },
            {
              "data": {"values": [{"x": 0.93, "y": -0.67, "t": "B. burgdorferi"}]},
              "mark": {"type": "text", "fontSize": 18.8, "fontStyle": "italic", "align": "left", "baseline": "alphabetic", "color": "black"},
              "encoding": {
                "x": {"field": "x", "type": "quantitative", "scale": {"domain": [0, 4], "nice": false}},
                "y": {"field": "y", "type": "quantitative", "scale": {"domain": [-0.455, 3.455], "reverse": true, "nice": false, "zero": false}, "axis": null},
                "text": {"field": "t"}
              }
            },
            {
              "data": {"values": [{"x": 3.17, "y": -0.67, "t": "IgG"}]},
              "mark": {"type": "text", "fontSize": 18.8, "align": "left", "baseline": "alphabetic", "color": "black"},
              "encoding": {
                "x": {"field": "x", "type": "quantitative", "scale": {"domain": [0, 4], "nice": false}},
                "y": {"field": "y", "type": "quantitative", "scale": {"domain": [-0.455, 3.455], "reverse": true, "nice": false, "zero": false}, "axis": null},
                "text": {"field": "t"}
              }
            }
          ]
        }
      ]
    },
    {
      "width": 215, "height": 211,
      "resolve": {"scale": {"y": "independent"}},
      "layer": [
        {
          "data": {"values": [
            {"group": "isotypes", "mean": 0.126, "hi": 0.179},
            {"group": "anti-IFNAR1", "mean": 0.233, "hi": 0.454},
            {"group": "anti-IFN-α", "mean": 0.119, "hi": 0.204},
            {"group": "anti-IFN-β", "mean": 0.073, "hi": 0.148}
          ]},
          "encoding": {
            "y": {"field": "group", "type": "nominal", "sort": ["isotypes", "anti-IFNAR1", "anti-IFN-α", "anti-IFN-β"], "scale": {"paddingInner": 0.333, "paddingOuter": 0.12}, "axis": {"title": null}},
            "x": {"field": "mean", "type": "quantitative", "scale": {"domain": [0, 0.5], "nice": false}, "axis": {"title": null, "values": [0, 0.1, 0.2, 0.3, 0.4, 0.5], "format": ".1f"}}
          },
          "layer": [
            {"mark": {"type": "bar", "stroke": "black", "strokeWidth": 3}, "encoding": {"fill": {"field": "group", "type": "nominal", "scale": {"domain": ["isotypes", "anti-IFNAR1", "anti-IFN-α", "anti-IFN-β"], "range": ["#8f8f8f", "#d9d9d9", "#8c8c8c", "#ffffff"]}, "legend": null}}},
            {"transform": [{"filter": "datum.group === 'anti-IFNAR1'"}], "mark": {"type": "bar", "strokeWidth": 0, "fill": {"gradient": "linear", "x1": 0, "y1": 0, "x2": 1.437, "y2": 0, "stops": [{"offset":0,"color":"#666"},{"offset":0.0104,"color":"#fff"},{"offset":0.0208,"color":"#666"},{"offset":0.0313,"color":"#fff"},{"offset":0.0417,"color":"#666"},{"offset":0.0521,"color":"#fff"},{"offset":0.0625,"color":"#666"},{"offset":0.0729,"color":"#fff"},{"offset":0.0833,"color":"#666"},{"offset":0.0938,"color":"#fff"},{"offset":0.1042,"color":"#666"},{"offset":0.1146,"color":"#fff"},{"offset":0.125,"color":"#666"},{"offset":0.1354,"color":"#fff"},{"offset":0.1458,"color":"#666"},{"offset":0.1563,"color":"#fff"},{"offset":0.1667,"color":"#666"},{"offset":0.1771,"color":"#fff"},{"offset":0.1875,"color":"#666"},{"offset":0.1979,"color":"#fff"},{"offset":0.2083,"color":"#666"},{"offset":0.2188,"color":"#fff"},{"offset":0.2292,"color":"#666"},{"offset":0.2396,"color":"#fff"},{"offset":0.25,"color":"#666"},{"offset":0.2604,"color":"#fff"},{"offset":0.2708,"color":"#666"},{"offset":0.2813,"color":"#fff"},{"offset":0.2917,"color":"#666"},{"offset":0.3021,"color":"#fff"},{"offset":0.3125,"color":"#666"},{"offset":0.3229,"color":"#fff"},{"offset":0.3333,"color":"#666"},{"offset":0.3438,"color":"#fff"},{"offset":0.3542,"color":"#666"},{"offset":0.3646,"color":"#fff"},{"offset":0.375,"color":"#666"},{"offset":0.3854,"color":"#fff"},{"offset":0.3958,"color":"#666"},{"offset":0.4063,"color":"#fff"},{"offset":0.4167,"color":"#666"},{"offset":0.4271,"color":"#fff"},{"offset":0.4375,"color":"#666"},{"offset":0.4479,"color":"#fff"},{"offset":0.4583,"color":"#666"},{"offset":0.4688,"color":"#fff"},{"offset":0.4792,"color":"#666"},{"offset":0.4896,"color":"#fff"},{"offset":0.5,"color":"#666"},{"offset":0.5104,"color":"#fff"},{"offset":0.5208,"color":"#666"},{"offset":0.5313,"color":"#fff"},{"offset":0.5417,"color":"#666"},{"offset":0.5521,"color":"#fff"},{"offset":0.5625,"color":"#666"},{"offset":0.5729,"color":"#fff"},{"offset":0.5833,"color":"#666"},{"offset":0.5938,"color":"#fff"},{"offset":0.6042,"color":"#666"},{"offset":0.6146,"color":"#fff"},{"offset":0.625,"color":"#666"},{"offset":0.6354,"color":"#fff"},{"offset":0.6458,"color":"#666"},{"offset":0.6563,"color":"#fff"},{"offset":0.6667,"color":"#666"},{"offset":0.6771,"color":"#fff"},{"offset":0.6875,"color":"#666"},{"offset":0.6979,"color":"#fff"},{"offset":0.7083,"color":"#666"},{"offset":0.7188,"color":"#fff"},{"offset":0.7292,"color":"#666"},{"offset":0.7396,"color":"#fff"},{"offset":0.75,"color":"#666"},{"offset":0.7604,"color":"#fff"},{"offset":0.7708,"color":"#666"},{"offset":0.7813,"color":"#fff"},{"offset":0.7917,"color":"#666"},{"offset":0.8021,"color":"#fff"},{"offset":0.8125,"color":"#666"},{"offset":0.8229,"color":"#fff"},{"offset":0.8333,"color":"#666"},{"offset":0.8438,"color":"#fff"},{"offset":0.8542,"color":"#666"},{"offset":0.8646,"color":"#fff"},{"offset":0.875,"color":"#666"},{"offset":0.8854,"color":"#fff"},{"offset":0.8958,"color":"#666"},{"offset":0.9063,"color":"#fff"},{"offset":0.9167,"color":"#666"},{"offset":0.9271,"color":"#fff"},{"offset":0.9375,"color":"#666"},{"offset":0.9479,"color":"#fff"},{"offset":0.9583,"color":"#666"},{"offset":0.9688,"color":"#fff"},{"offset":0.9792,"color":"#666"},{"offset":0.9896,"color":"#fff"},{"offset":1,"color":"#666"}]}}},
            {"transform": [{"filter": "datum.group === 'anti-IFNAR1'"}], "mark": {"type": "bar", "stroke": "black", "strokeWidth": 3, "fill": {"gradient": "linear", "x1": 0, "y1": 0, "x2": 0, "y2": 1, "stops": [{"offset":0,"color":"#fff"},{"offset":0.0417,"color":"rgba(255,255,255,0)"},{"offset":0.0833,"color":"#fff"},{"offset":0.125,"color":"rgba(255,255,255,0)"},{"offset":0.1667,"color":"#fff"},{"offset":0.2083,"color":"rgba(255,255,255,0)"},{"offset":0.25,"color":"#fff"},{"offset":0.2917,"color":"rgba(255,255,255,0)"},{"offset":0.3333,"color":"#fff"},{"offset":0.375,"color":"rgba(255,255,255,0)"},{"offset":0.4167,"color":"#fff"},{"offset":0.4583,"color":"rgba(255,255,255,0)"},{"offset":0.5,"color":"#fff"},{"offset":0.5417,"color":"rgba(255,255,255,0)"},{"offset":0.5833,"color":"#fff"},{"offset":0.625,"color":"rgba(255,255,255,0)"},{"offset":0.6667,"color":"#fff"},{"offset":0.7083,"color":"rgba(255,255,255,0)"},{"offset":0.75,"color":"#fff"},{"offset":0.7917,"color":"rgba(255,255,255,0)"},{"offset":0.8333,"color":"#fff"},{"offset":0.875,"color":"rgba(255,255,255,0)"},{"offset":0.9167,"color":"#fff"},{"offset":0.9583,"color":"rgba(255,255,255,0)"},{"offset":1,"color":"#fff"}]}}},
            {"transform": [{"filter": "datum.group === 'anti-IFN-α'"}], "mark": {"type": "bar", "stroke": "black", "strokeWidth": 3, "fill": {"gradient": "linear", "x1": 0, "y1": 0, "x2": 2.7711, "y2": 1.9484, "stops": [{"offset":0,"color":"#111"},{"offset":0.0078,"color":"#fff"},{"offset":0.0156,"color":"#111"},{"offset":0.0234,"color":"#fff"},{"offset":0.0313,"color":"#111"},{"offset":0.0391,"color":"#fff"},{"offset":0.0469,"color":"#111"},{"offset":0.0547,"color":"#fff"},{"offset":0.0625,"color":"#111"},{"offset":0.0703,"color":"#fff"},{"offset":0.0781,"color":"#111"},{"offset":0.0859,"color":"#fff"},{"offset":0.0938,"color":"#111"},{"offset":0.1016,"color":"#fff"},{"offset":0.1094,"color":"#111"},{"offset":0.1172,"color":"#fff"},{"offset":0.125,"color":"#111"},{"offset":0.1328,"color":"#fff"},{"offset":0.1406,"color":"#111"},{"offset":0.1484,"color":"#fff"},{"offset":0.1563,"color":"#111"},{"offset":0.1641,"color":"#fff"},{"offset":0.1719,"color":"#111"},{"offset":0.1797,"color":"#fff"},{"offset":0.1875,"color":"#111"},{"offset":0.1953,"color":"#fff"},{"offset":0.2031,"color":"#111"},{"offset":0.2109,"color":"#fff"},{"offset":0.2188,"color":"#111"},{"offset":0.2266,"color":"#fff"},{"offset":0.2344,"color":"#111"},{"offset":0.2422,"color":"#fff"},{"offset":0.25,"color":"#111"},{"offset":0.2578,"color":"#fff"},{"offset":0.2656,"color":"#111"},{"offset":0.2734,"color":"#fff"},{"offset":0.2813,"color":"#111"},{"offset":0.2891,"color":"#fff"},{"offset":0.2969,"color":"#111"},{"offset":0.3047,"color":"#fff"},{"offset":0.3125,"color":"#111"},{"offset":0.3203,"color":"#fff"},{"offset":0.3281,"color":"#111"},{"offset":0.3359,"color":"#fff"},{"offset":0.3438,"color":"#111"},{"offset":0.3516,"color":"#fff"},{"offset":0.3594,"color":"#111"},{"offset":0.3672,"color":"#fff"},{"offset":0.375,"color":"#111"},{"offset":0.3828,"color":"#fff"},{"offset":0.3906,"color":"#111"},{"offset":0.3984,"color":"#fff"},{"offset":0.4063,"color":"#111"},{"offset":0.4141,"color":"#fff"},{"offset":0.4219,"color":"#111"},{"offset":0.4297,"color":"#fff"},{"offset":0.4375,"color":"#111"},{"offset":0.4453,"color":"#fff"},{"offset":0.4531,"color":"#111"},{"offset":0.4609,"color":"#fff"},{"offset":0.4688,"color":"#111"},{"offset":0.4766,"color":"#fff"},{"offset":0.4844,"color":"#111"},{"offset":0.4922,"color":"#fff"},{"offset":0.5,"color":"#111"},{"offset":0.5078,"color":"#fff"},{"offset":0.5156,"color":"#111"},{"offset":0.5234,"color":"#fff"},{"offset":0.5313,"color":"#111"},{"offset":0.5391,"color":"#fff"},{"offset":0.5469,"color":"#111"},{"offset":0.5547,"color":"#fff"},{"offset":0.5625,"color":"#111"},{"offset":0.5703,"color":"#fff"},{"offset":0.5781,"color":"#111"},{"offset":0.5859,"color":"#fff"},{"offset":0.5938,"color":"#111"},{"offset":0.6016,"color":"#fff"},{"offset":0.6094,"color":"#111"},{"offset":0.6172,"color":"#fff"},{"offset":0.625,"color":"#111"},{"offset":0.6328,"color":"#fff"},{"offset":0.6406,"color":"#111"},{"offset":0.6484,"color":"#fff"},{"offset":0.6563,"color":"#111"},{"offset":0.6641,"color":"#fff"},{"offset":0.6719,"color":"#111"},{"offset":0.6797,"color":"#fff"},{"offset":0.6875,"color":"#111"},{"offset":0.6953,"color":"#fff"},{"offset":0.7031,"color":"#111"},{"offset":0.7109,"color":"#fff"},{"offset":0.7188,"color":"#111"},{"offset":0.7266,"color":"#fff"},{"offset":0.7344,"color":"#111"},{"offset":0.7422,"color":"#fff"},{"offset":0.75,"color":"#111"},{"offset":0.7578,"color":"#fff"},{"offset":0.7656,"color":"#111"},{"offset":0.7734,"color":"#fff"},{"offset":0.7813,"color":"#111"},{"offset":0.7891,"color":"#fff"},{"offset":0.7969,"color":"#111"},{"offset":0.8047,"color":"#fff"},{"offset":0.8125,"color":"#111"},{"offset":0.8203,"color":"#fff"},{"offset":0.8281,"color":"#111"},{"offset":0.8359,"color":"#fff"},{"offset":0.8438,"color":"#111"},{"offset":0.8516,"color":"#fff"},{"offset":0.8594,"color":"#111"},{"offset":0.8672,"color":"#fff"},{"offset":0.875,"color":"#111"},{"offset":0.8828,"color":"#fff"},{"offset":0.8906,"color":"#111"},{"offset":0.8984,"color":"#fff"},{"offset":0.9063,"color":"#111"},{"offset":0.9141,"color":"#fff"},{"offset":0.9219,"color":"#111"},{"offset":0.9297,"color":"#fff"},{"offset":0.9375,"color":"#111"},{"offset":0.9453,"color":"#fff"},{"offset":0.9531,"color":"#111"},{"offset":0.9609,"color":"#fff"},{"offset":0.9688,"color":"#111"},{"offset":0.9766,"color":"#fff"},{"offset":0.9844,"color":"#111"},{"offset":0.9922,"color":"#fff"},{"offset":1,"color":"#111"}]}}},
            {"mark": {"type": "rule", "strokeWidth": 2, "color": "black"}, "encoding": {"x2": {"field": "hi"}}},
            {"mark": {"type": "tick", "orient": "vertical", "size": 17, "thickness": 2.5, "color": "black", "opacity": 1}, "encoding": {"x": {"field": "hi", "type": "quantitative"}}}
          ]
        },
        {
          "layer": [
            {
              "data": {"values": [{"x": 0.2512, "y": -0.707, "t": "B. burgdorferi 16S rRNA"}]},
              "mark": {"type": "text", "fontSize": 18.8, "fontStyle": "italic", "align": "center", "baseline": "alphabetic", "color": "black"},
              "encoding": {
                "x": {"field": "x", "type": "quantitative", "scale": {"domain": [0, 0.5], "nice": false}},
                "y": {"field": "y", "type": "quantitative", "scale": {"domain": [-0.455, 3.455], "reverse": true, "nice": false, "zero": false}, "axis": null},
                "text": {"field": "t"}
              }
            },
            {
              "data": {"values": [{"x": 0.052, "y": 4.367, "t": "Copies/1000"}]},
              "mark": {"type": "text", "fontSize": 18.8, "align": "left", "baseline": "alphabetic", "color": "black"},
              "encoding": {
                "x": {"field": "x", "type": "quantitative", "scale": {"domain": [0, 0.5], "nice": false}},
                "y": {"field": "y", "type": "quantitative", "scale": {"domain": [-0.455, 3.455], "reverse": true, "nice": false, "zero": false}, "axis": null},
                "text": {"field": "t"}
              }
            },
            {
              "data": {"values": [{"x": 0.31, "y": 4.367, "t": "β-actin"}]},
              "mark": {"type": "text", "fontSize": 18.8, "fontStyle": "italic", "align": "left", "baseline": "alphabetic", "color": "black"},
              "encoding": {
                "x": {"field": "x", "type": "quantitative", "scale": {"domain": [0, 0.5], "nice": false}},
                "y": {"field": "y", "type": "quantitative", "scale": {"domain": [-0.455, 3.455], "reverse": true, "nice": false, "zero": false}, "axis": null},
                "text": {"field": "t"}
              }
            }
          ]
        }
      ]
    }
  ],
  "config": {
    "font": "Liberation Sans",
    "view": {"stroke": null},
    "text": {"font": "Liberation Sans"},
    "axis": {
      "grid": false,
      "domainColor": "black", "domainWidth": 3, "domainCap": "square",
      "tickColor": "black", "tickWidth": 3,
      "labelColor": "black", "labelFont": "Liberation Sans",
      "titleColor": "black", "titleFont": "Liberation Sans", "titleFontWeight": "normal",
      "labelOverlap": false
    },
    "axisX": {"labelFontSize": 16, "tickSize": 7, "labelPadding": 7, "titleFontSize": 18.8, "titleBaseline": "alphabetic", "labelFlush": false},
    "axisY": {"labelFontSize": 19.2, "tickSize": 11, "labelPadding": 2}
  }
}
